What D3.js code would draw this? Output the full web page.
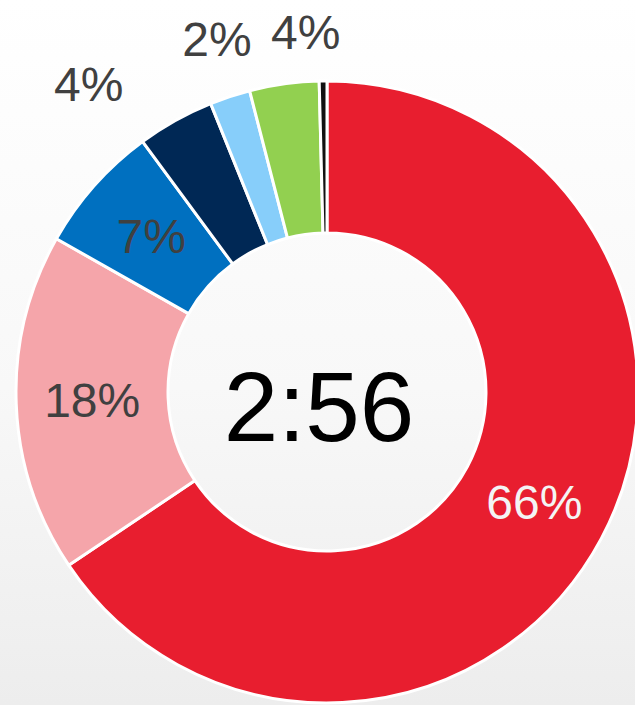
<!DOCTYPE html>
<html>
<head>
<meta charset="utf-8">
<script src="https://cdn.jsdelivr.net/npm/d3@7"></script>
<style>
  html, body { margin: 0; padding: 0; overflow: hidden; }
  svg { display: block; }
</style>
</head>
<body>
<svg id="donut" width="635" height="705"></svg>
<script>
// Data (share of total, clockwise from 12 o'clock)
const segments = ["A", "B", "C", "D", "E", "F", "G"];
const shares = [65.6, 17.6, 6.7, 4.0, 2.1, 3.6, 0.4];
const colors = ["#e81e2f", "#f5a5aa", "#0070c0", "#002855", "#87cefa", "#92d050", "#111111"];
const centerText = "2:56";

// labels that sit outside the ring get nudged apart so they do not collide
const outside = [false, false, false, true, true, true, false];
const outerNudge = [[0, 0], [0, 0], [0, 0], [-57, 17], [6, 1], [30, 9], [0, 0]];

const svg = d3.select("#donut");
const width = +svg.attr("width");
const height = +svg.attr("height");
const cx = 327, cy = 392;
const outerR = 311, innerR = 159;

// background
const defs = svg.append("defs");
const grad = defs.append("linearGradient")
                 .attr("id", "bg")
                 .attr("x1", 0).attr("y1", 0)
                 .attr("x2", 0).attr("y2", 1);
grad.append("stop").attr("offset", "0%").attr("stop-color", "#ffffff");
grad.append("stop").attr("offset", "55%").attr("stop-color", "#f8f8f8");
grad.append("stop").attr("offset", "100%").attr("stop-color", "#ededed");
svg.append("rect")
   .attr("width", width)
   .attr("height", height)
   .attr("fill", "url(#bg)");

const data = segments.map((s, i) => ({name: s, value: shares[i], i: i}));

const pie = d3.pie()
              .value(d => d.value)
              .sort(null);
const arc = d3.arc()
              .innerRadius(innerR)
              .outerRadius(outerR);
const labelArc = d3.arc()
                   .innerRadius(372)
                   .outerRadius(372);

const chart = svg.append("g")
                 .attr("transform", `translate(${cx}, ${cy})`);

const arcs = pie(data);

chart.selectAll("path")
     .data(arcs)
     .join("path")
     .attr("d", arc)
     .attr("fill", d => colors[d.data.i])
     .attr("stroke", "#ffffff")
     .attr("stroke-width", 3)
     .attr("stroke-linejoin", "round");

// slice labels
chart.selectAll("text.pct")
     .data(arcs.filter(d => d.data.i !== 6))
     .join("text")
     .attr("class", "pct")
     .attr("transform", d => {
        const i = d.data.i;
        const p = outside[i] ? labelArc.centroid(d) : arc.centroid(d);
        return `translate(${p[0] + outerNudge[i][0]}, ${p[1] + outerNudge[i][1]})`;
     })
     .attr("text-anchor", "middle")
     .attr("dominant-baseline", "central")
     .attr("font-family", "'Liberation Sans', Arial, sans-serif")
     .attr("font-size", 48)
     .attr("fill", d => d.data.i === 0 ? "#f4f4f4" : "#404040")
     .text(d => Math.round(d.data.value) + "%");

// centre value
chart.append("text")
     .attr("x", -8)
     .attr("y", 15)
     .attr("text-anchor", "middle")
     .attr("dominant-baseline", "central")
     .attr("font-family", "'Liberation Sans', Arial, sans-serif")
     .attr("font-size", 98)
     .attr("fill", "#000000")
     .text(centerText);
</script>
</body>
</html>
